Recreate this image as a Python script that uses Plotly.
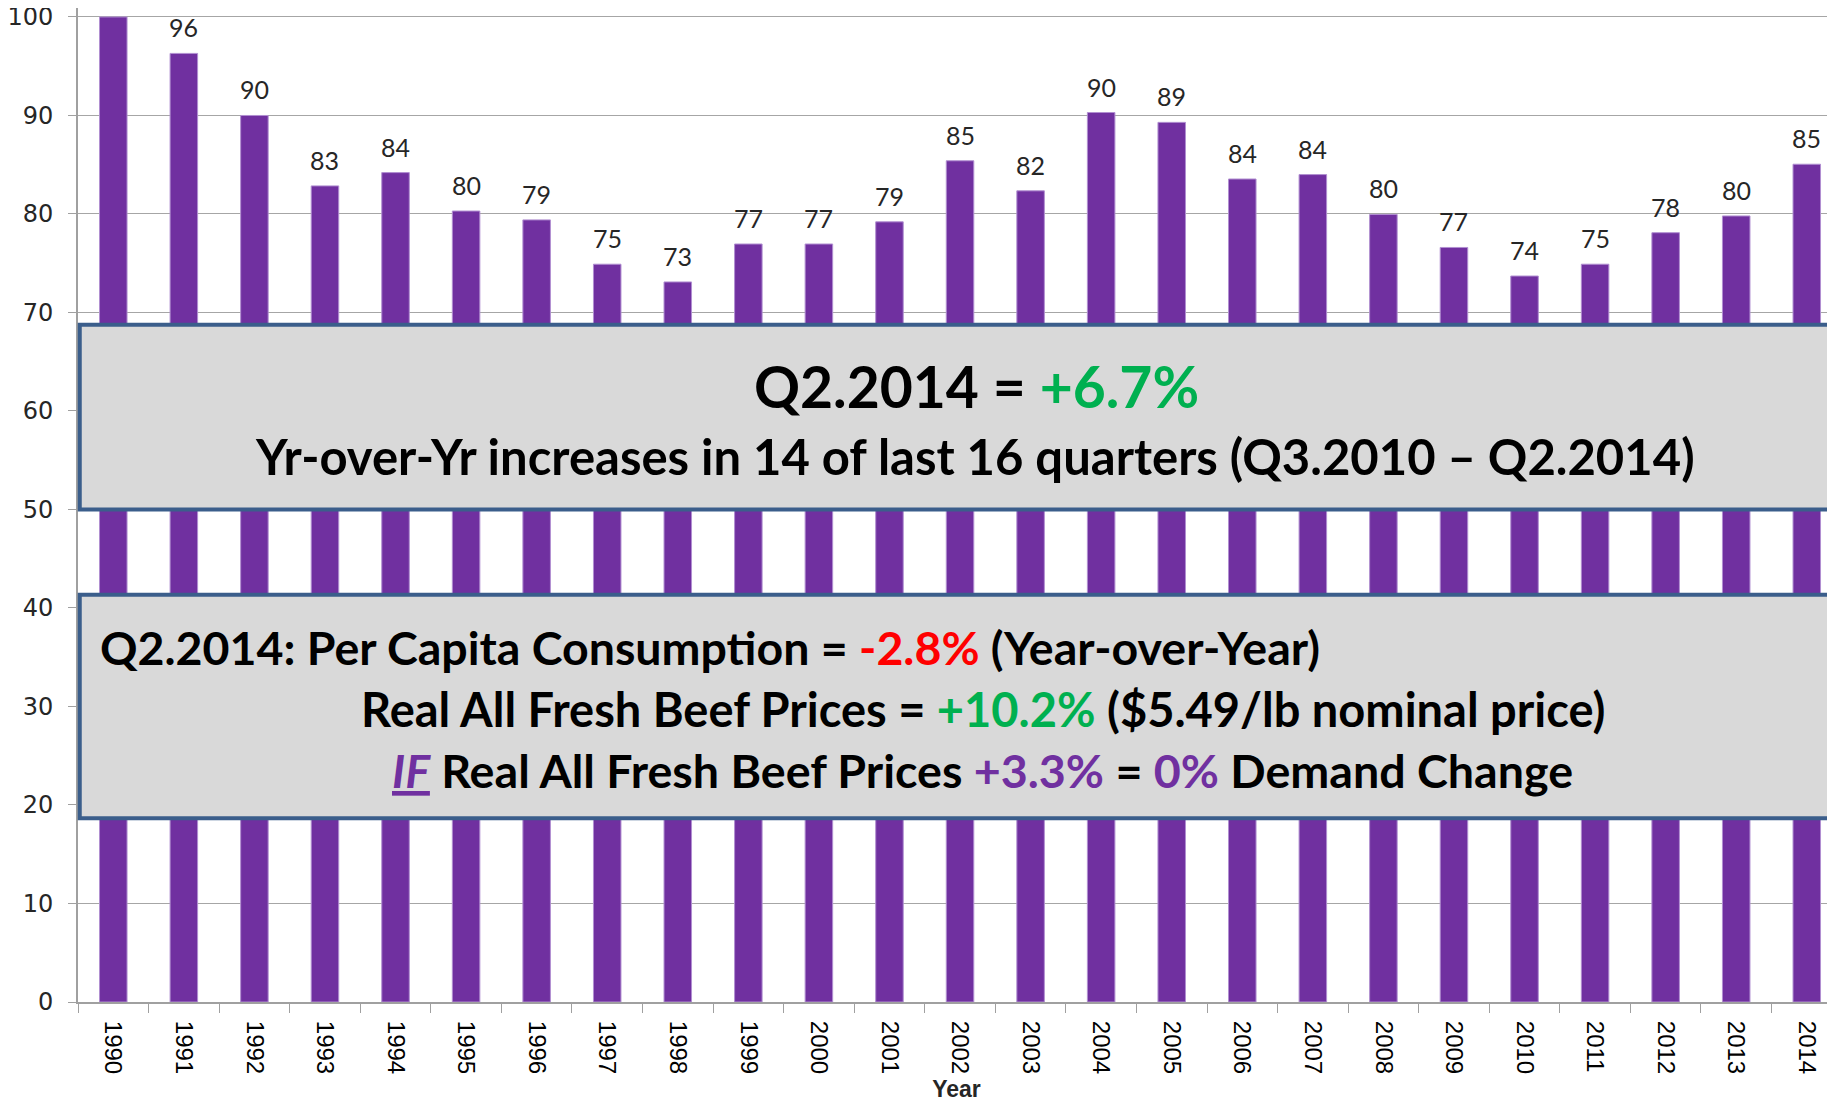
import plotly.graph_objects as go

years = [str(y) for y in range(1990, 2015)]
demand_index = [100.0, 96.3, 90.0, 82.85, 84.2, 80.3, 79.4, 74.9, 73.1, 76.95,
                76.95, 79.2, 85.4, 82.35, 90.3, 89.3, 83.55, 84.0, 79.95, 76.6,
                73.7, 74.9, 78.1, 79.8, 85.05]

PURPLE = '#7030A0'
GREEN = '#00B050'
RED = '#FF0000'
BOX_FILL = '#D9D9D9'
BOX_LINE = '#3B5E8B'

idx = list(range(len(years)))

fig = go.Figure(go.Bar(
    x=idx, y=demand_index, width=0.39,
    marker=dict(color=PURPLE, line=dict(color='#B18FD1', width=1)),
    hovertext=years, hoverinfo='text+y',
))

# data labels above each bar (the 1990 one sits above the visible page)
for i, v in zip(idx, demand_index):
    if v >= 99:
        continue
    fig.add_annotation(x=i, y=v, text=f'{v:.0f}', showarrow=False,
                       yanchor='middle', yshift=26,
                       font=dict(family='Lato', size=25, color='#262626'))

# the two grey call-out boxes
for y0, y1 in [(50.0, 68.75), (18.65, 41.35)]:
    fig.add_shape(type='rect', xref='paper', yref='y', x0=0.001, x1=1.05,
                  y0=y0, y1=y1, fillcolor=BOX_FILL,
                  line=dict(color=BOX_LINE, width=4), layer='above')


def px(x):
    return (x - 78) / 1757


bold = dict(family='Lato', color='black')
fig.add_annotation(xref='paper', yref='y', x=px(976), y=62.5, showarrow=False,
                   text=f'<b>Q2.2014 = <span style="color:{GREEN}">+6.7%</span></b>',
                   font=dict(size=57, **bold))
fig.add_annotation(xref='paper', yref='y', x=px(975), y=55.4, showarrow=False,
                   text='<b>Yr-over-Yr increases in 14 of last 16 quarters (Q3.2010 – Q2.2014)</b>',
                   font=dict(size=49, **bold))
fig.add_annotation(xref='paper', yref='y', x=px(98), y=36.0, showarrow=False,
                   xanchor='left',
                   text=f'<b>Q2.2014: Per Capita Consumption = <span style="color:{RED}">-2.8%</span> (Year-over-Year)</b>',
                   font=dict(size=46.5, **bold))
fig.add_annotation(xref='paper', yref='y', x=px(983), y=29.7, showarrow=False,
                   text=f'<b>Real All Fresh Beef Prices = <span style="color:{GREEN}">+10.2%</span> ($5.49/lb nominal price)</b>',
                   font=dict(size=47, **bold))
fig.add_annotation(xref='paper', yref='y', x=px(982), y=23.55, showarrow=False,
                   text=(f'<b><span style="color:{PURPLE}"><i><u>IF</u></i></span> Real All Fresh Beef Prices '
                         f'<span style="color:{PURPLE}">+3.3%</span> = <span style="color:{PURPLE}">0%</span> Demand Change</b>'),
                   font=dict(size=46.6, **bold))

# page body adds an 8px margin, so the figure is 8px smaller than the window
fig.update_layout(
    width=1827, height=1094,
    margin=dict(l=70, r=0, t=0, b=100),
    paper_bgcolor='white', plot_bgcolor='white',
    showlegend=False,
)
fig.update_xaxes(
    range=[-0.5, 24.4], tickvals=idx, ticktext=years, automargin=False,
    tickangle=90, ticks='', showline=True, linecolor='#A0A0A0', linewidth=2,
    showgrid=False, ticklabelstandoff=12, zeroline=False,
    minor=dict(tickvals=[i - 0.5 for i in idx] + [24.5], ticks='outside',
               ticklen=9, tickcolor='#A0A0A0', showgrid=False),
    tickfont=dict(family='Liberation Sans', size=24, color='black'),
    title=dict(text='<b>Year</b>', standoff=10,
               font=dict(family='Liberation Sans', size=23, color='#262626')),
)
fig.update_yaxes(
    range=[0, 100.91], tick0=0, dtick=10, automargin=False,
    ticks='outside', ticklen=8, tickcolor='#A0A0A0',
    showline=True, linecolor='#A0A0A0', linewidth=2,
    showgrid=True, gridcolor='#A6A6A6', gridwidth=1,
    zeroline=False, ticklabelstandoff=10, ticklabeloverflow='allow',
    tickfont=dict(family='DejaVu Sans', size=24, color='#262626'),
)

fig.write_html('out.html')
